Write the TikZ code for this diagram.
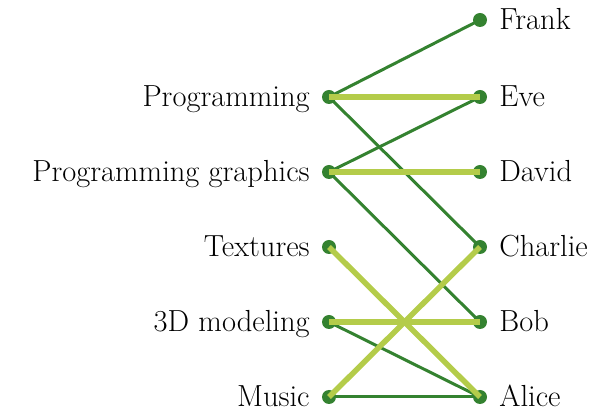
\documentclass[tikz,border=0pt]{standalone}
\usepackage{xcolor}
\usepackage{tikz}
\definecolor{darkleaf}{RGB}{52,130,48}
\definecolor{lightleaf}{RGB}{180,204,74}
\tikzset{
  dot/.style={circle, fill=darkleaf, inner sep=0pt, minimum size=14pt},
  lbl/.style={font=\fontsize{30.5}{36}\selectfont, inner sep=0pt, label distance=12pt, yshift=-9.5pt},
  strong/.style={draw=lightleaf, line width=5.5pt},
  weak/.style={draw=darkleaf, line width=3pt},
}

\begin{document}
\begin{tikzpicture}[x=1pt, y=-1pt]
  \useasboundingbox (0,0) rectangle (598,411);
  % left column
  \foreach \name/\txt/\ypos in {prog/Programming/97, graph/Programming graphics/172,
      tex/Textures/247, model/3D modeling/322, music/Music/397}
    \node[dot, label={[lbl, anchor=base east]left:\txt}] (\name) at (329,\ypos) {};
  % right column
  \foreach \name/\txt/\ypos in {frank/Frank/20, eve/Eve/97, david/David/172,
      charlie/Charlie/247, bob/Bob/322, alice/Alice/397}
    \node[dot, label={[lbl, anchor=base west]right:\txt}] (\name) at (480,\ypos) {};
  \draw[weak] (prog.center) -- (frank.center);
  \draw[weak] (prog.center) -- (charlie.center);
  \draw[weak] (graph.center) -- (eve.center);
  \draw[weak] (graph.center) -- (bob.center);
  \draw[weak] (model.center) -- (alice.center);
  \draw[weak] (music.center) -- (alice.center);
  \draw[strong] (prog.center) -- (eve.center);
  \draw[strong] (graph.center) -- (david.center);
  \draw[strong] (tex.center) -- (alice.center);
  \draw[strong] (model.center) -- (bob.center);
  \draw[strong] (music.center) -- (charlie.center);
\end{tikzpicture}
\end{document}
